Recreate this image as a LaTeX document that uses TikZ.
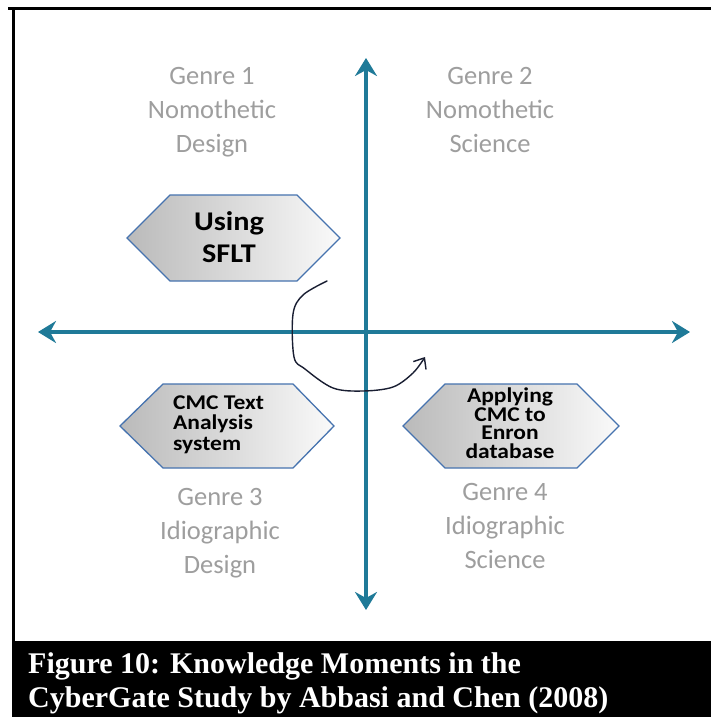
\documentclass[tikz,border=0pt]{standalone}
\usepackage{fontspec}
\setmainfont{Liberation Serif}
\newfontfamily\calib{Carlito}
\usetikzlibrary{arrows.meta}
\definecolor{axiscol}{RGB}{31,122,152}
\definecolor{genrecol}{RGB}{158,158,158}
\definecolor{hexedge}{RGB}{70,115,175}
\definecolor{hexdark}{RGB}{186,186,186}
\definecolor{hexlight}{RGB}{250,250,250}
\definecolor{inkcol}{RGB}{25,30,50}
\newcommand{\widetxt}[1]{\scalebox{1.12}[1]{#1}}
\begin{document}
\begin{tikzpicture}[x=1pt,y=-1pt,
  genretext/.style={font=\calib\fontsize{26.5}{34}\selectfont, text=genrecol, align=center, inner sep=0pt, anchor=base},
  hexshape/.style={left color=hexdark, right color=hexlight, draw=hexedge, line width=1.3pt, line join=miter},
  hextext/.style={font=\calib\bfseries, text=black, inner sep=0pt},
  axisline/.style={draw=axiscol, line width=4pt, {Stealth[length=18pt,width=22pt,inset=6pt]}-{Stealth[length=18pt,width=22pt,inset=6pt]}},
  handarrow/.style={draw=inkcol, line width=1.4pt, line cap=round, line join=round, -{Straight Barb[length=9pt,width=15pt]}},
  captiontext/.style={font=\bfseries\fontsize{30}{34}\selectfont, text=white, align=left, inner sep=0pt, anchor=base west}
]
\useasboundingbox (0,0) rectangle (711,717);
\fill[white] (0,0) rectangle (711,717);
% frame
\draw[black, line width=3pt] (8,9) -- (711,9);
\draw[black, line width=3pt] (13,8) -- (13,642);
\fill[black] (11.5,641) rectangle (711,717);
% axes
\coordinate (vtop) at (366,58);
\coordinate (vbot) at (366,610);
\coordinate (hleft) at (38,332);
\coordinate (hright) at (690,332);
\draw[axisline] (vbot) -- (vtop);
\draw[axisline] (hleft) -- (hright);
% genre labels (anchor = baseline of last line)
\node[genretext] (g1) at (212,152) {Genre 1\\Nomothetic\\Design};
\node[genretext] (g2) at (490,152) {Genre 2\\Nomothetic\\Science};
\node[genretext] (g3) at (220,573) {Genre 3\\Idiographic\\Design};
\node[genretext] (g4) at (505,568) {Genre 4\\Idiographic\\Science};
% hexagons
\path[hexshape] (127,238) -- (170,195) -- (297,195) -- (340,238) -- (297,281) -- (170,281) -- cycle;
\path[hexshape] (120,426) -- (163,384) -- (293,384) -- (334,426) -- (293,468) -- (163,468) -- cycle;
\path[hexshape] (403,426) -- (445,384) -- (577,384) -- (619,426) -- (577,468) -- (445,468) -- cycle;
\node[hextext, font=\calib\bfseries\fontsize{27}{32}\selectfont, align=center, anchor=base] (h1) at (229,262) {\widetxt{Using}\\\widetxt{SFLT}};
\node[hextext, font=\calib\bfseries\fontsize{21}{20.5}\selectfont, align=left, anchor=base west] (h2) at (173,450) {\widetxt{CMC Text}\\\widetxt{Analysis}\\\widetxt{system}};
\node[hextext, font=\calib\bfseries\fontsize{21}{18.5}\selectfont, align=center, anchor=base] (h3) at (510,458) {\widetxt{Applying}\\\widetxt{CMC to}\\\widetxt{Enron}\\\widetxt{database}};
% hand drawn arrow
\draw[handarrow] plot[smooth, tension=0.55] coordinates {(327,281) (303,295) (293,314) (294,357) (305,369) (333,388) (363,391) (393,387) (413,373) (425,357)};
% caption
\node[captiontext] (cap) at (28,707) {Figure 10: Knowledge Moments in the\\CyberGate Study by Abbasi and Chen (2008)};
\end{tikzpicture}
\end{document}
